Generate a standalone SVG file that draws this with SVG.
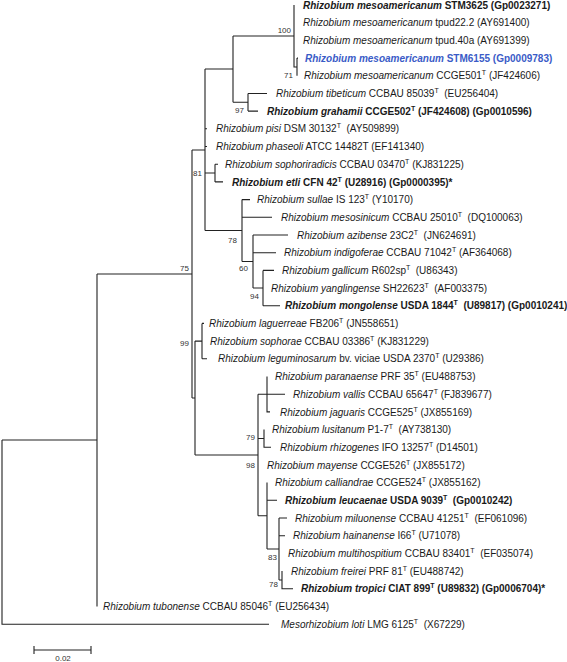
<svg xmlns="http://www.w3.org/2000/svg" width="567" height="662" viewBox="0 0 567 662">
<style>
.t{font-family:"Liberation Sans",Arial,sans-serif;font-size:10px;fill:#1a1a1a;white-space:pre}
.b{font-weight:bold}
.i{font-style:italic}
.s{font-size:7px}
.blue{fill:#3a5bc7}
.bs{font-family:"Liberation Sans",Arial,sans-serif;font-size:8px;fill:#333;text-anchor:end}
.ln{fill:none;stroke:#222;stroke-width:1.1}
</style>
<rect width="567" height="662" fill="#fff"/>
<g id="connectors" class="ln">
<path d="M2,440V624.2H269M2,440H97"/>
<path d="M97,274V606.5M97,274H192"/>
<path d="M192,150V398M192,150H205M192,398H195"/>
<path d="M205,69V230.5M205,69H233M205,128.8H207M205,146.5H207M205,173H215M205,230.5H242"/>
<path d="M233,36V102.3M233,36H294M233,102.3H248"/>
<path d="M294,5V67H297"/>
<path d="M297,58.1V75.8M297,58.1H298"/>
<path d="M248,93.5V111.1M248,93.5H267M248,111.1H258"/>
<path d="M215,164.2V181.9M215,164.2H218M215,181.9H223"/>
<path d="M242,199.6V261.5M242,199.6H250M242,217.3H272M242,261.5H253"/>
<path d="M253,235V288M253,235H288M253,252.7H276M253,288H263"/>
<path d="M263,270.4V305.7M263,270.4H274M263,305.7H280"/>
<path d="M195,341.1V455M195,341.1H202M195,455H258"/>
<path d="M202,323.4V358.8M202,323.4H204M202,358.8H207"/>
<path d="M258,394.2V515.8M258,394.2H285M258,438.5H264M258,515.8H267"/>
<path d="M267,376.5V411.9H270"/>
<path d="M264,429.6V447.3H271"/>
<path d="M267,482.6V549M267,500.3H277M267,549H279"/>
<path d="M279,518V580M279,518H287M279,535.7H285M279,580H282"/>
<path d="M282,571.1V588.8H293"/>
</g>
<g id="scale-bar">
<path class="ln" d="M34,650H91M34,646V654M91,646V654"/>
<text class="bs" x="63" y="661" style="text-anchor:middle">0.02</text>
</g>
<g id="support-values">
<text class="bs" x="291" y="33">100</text>
<text class="bs" x="293" y="78">71</text>
<text class="bs" x="244" y="113">97</text>
<text class="bs" x="202" y="176">81</text>
<text class="bs" x="237" y="243">78</text>
<text class="bs" x="248" y="271">60</text>
<text class="bs" x="259" y="299">94</text>
<text class="bs" x="189" y="271">75</text>
<text class="bs" x="189" y="346">99</text>
<text class="bs" x="255" y="440">79</text>
<text class="bs" x="255" y="468">98</text>
<text class="bs" x="277" y="560">83</text>
<text class="bs" x="278" y="587">78</text>
</g>
<g id="leaf-STM3625"><text class="t b" x="303" y="8.6"><tspan class="i">Rhizobium mesoamericanum</tspan> STM3625 (Gp0023271)</text></g>
<g id="leaf-tpud22"><text class="t" x="303" y="26.3"><tspan class="i">Rhizobium mesoamericanum</tspan> tpud22.2 (AY691400)</text></g>
<g id="leaf-tpud40a"><text class="t" x="303" y="44"><tspan class="i">Rhizobium mesoamericanum</tspan> tpud.40a (AY691399)</text></g>
<g id="leaf-STM6155"><text class="t b blue" x="305" y="61.7"><tspan class="i">Rhizobium mesoamericanum</tspan> STM6155 (Gp0009783)</text></g>
<g id="leaf-CCGE501"><text class="t" x="304" y="79.4"><tspan class="i">Rhizobium mesoamericanum</tspan> CCGE501<tspan class="s" dy="-4">T</tspan><tspan dy="4"> (JF424606)</tspan></text></g>
<g id="leaf-tibeticum"><text class="t" x="276" y="97.1"><tspan class="i">Rhizobium tibeticum</tspan> CCBAU 85039<tspan class="s" dy="-4">T</tspan><tspan dy="4">  (EU256404)</tspan></text></g>
<g id="leaf-grahamii"><text class="t b" x="267" y="114.7"><tspan class="i">Rhizobium grahamii</tspan> CCGE502<tspan class="s" dy="-4">T</tspan><tspan dy="4"> (JF424608) (Gp0010596)</tspan></text></g>
<g id="leaf-pisi"><text class="t" x="216" y="132.4"><tspan class="i">Rhizobium pisi</tspan> DSM 30132<tspan class="s" dy="-4">T</tspan><tspan dy="4">  (AY509899)</tspan></text></g>
<g id="leaf-phaseoli"><text class="t" x="216" y="150.1"><tspan class="i">Rhizobium phaseoli</tspan> ATCC 14482T (EF141340)</text></g>
<g id="leaf-sophoriradicis"><text class="t" x="225" y="167.8"><tspan class="i">Rhizobium sophoriradicis</tspan> CCBAU 03470<tspan class="s" dy="-4">T</tspan><tspan dy="4"> (KJ831225)</tspan></text></g>
<g id="leaf-etli"><text class="t b" x="232" y="185.5"><tspan class="i">Rhizobium etli</tspan> CFN 42<tspan class="s" dy="-4">T</tspan><tspan dy="4"> (U28916) (Gp0000395)*</tspan></text></g>
<g id="leaf-sullae"><text class="t" x="257" y="203.2"><tspan class="i">Rhizobium sullae</tspan> IS 123<tspan class="s" dy="-4">T</tspan><tspan dy="4"> (Y10170)</tspan></text></g>
<g id="leaf-mesosinicum"><text class="t" x="281" y="220.9"><tspan class="i">Rhizobium mesosinicum</tspan> CCBAU 25010<tspan class="s" dy="-4">T</tspan><tspan dy="4">  (DQ100063)</tspan></text></g>
<g id="leaf-azibense"><text class="t" x="297" y="238.6"><tspan class="i">Rhizobium azibense</tspan> 23C2<tspan class="s" dy="-4">T</tspan><tspan dy="4">  (JN624691)</tspan></text></g>
<g id="leaf-indigoferae"><text class="t" x="284" y="256.3"><tspan class="i">Rhizobium indigoferae</tspan> CCBAU 71042<tspan class="s" dy="-4">T</tspan><tspan dy="4"> (AF364068)</tspan></text></g>
<g id="leaf-gallicum"><text class="t" x="282" y="274"><tspan class="i">Rhizobium gallicum</tspan> R602sp<tspan class="s" dy="-4">T</tspan><tspan dy="4">  (U86343)</tspan></text></g>
<g id="leaf-yanglingense"><text class="t" x="271" y="291.6"><tspan class="i">Rhizobium yanglingense</tspan> SH22623<tspan class="s" dy="-4">T</tspan><tspan dy="4">  (AF003375)</tspan></text></g>
<g id="leaf-mongolense"><text class="t b" x="285" y="309.3"><tspan class="i">Rhizobium mongolense</tspan> USDA 1844<tspan class="s" dy="-4">T</tspan><tspan dy="4">  (U89817) (Gp0010241)</tspan></text></g>
<g id="leaf-laguerreae"><text class="t" x="209" y="327"><tspan class="i">Rhizobium laguerreae</tspan> FB206<tspan class="s" dy="-4">T</tspan><tspan dy="4"> (JN558651)</tspan></text></g>
<g id="leaf-sophorae"><text class="t" x="210" y="344.7"><tspan class="i">Rhizobium sophorae</tspan> CCBAU 03386<tspan class="s" dy="-4">T</tspan><tspan dy="4"> (KJ831229)</tspan></text></g>
<g id="leaf-leguminosarum"><text class="t" x="218" y="362.4"><tspan class="i">Rhizobium leguminosarum</tspan> bv. viciae USDA 2370<tspan class="s" dy="-4">T</tspan><tspan dy="4"> (U29386)</tspan></text></g>
<g id="leaf-paranaense"><text class="t" x="275" y="380.1"><tspan class="i">Rhizobium paranaense</tspan> PRF 35<tspan class="s" dy="-4">T</tspan><tspan dy="4"> (EU488753)</tspan></text></g>
<g id="leaf-vallis"><text class="t" x="293" y="397.8"><tspan class="i">Rhizobium vallis</tspan> CCBAU 65647<tspan class="s" dy="-4">T</tspan><tspan dy="4"> (FJ839677)</tspan></text></g>
<g id="leaf-jaguaris"><text class="t" x="280" y="415.5"><tspan class="i">Rhizobium jaguaris</tspan> CCGE525<tspan class="s" dy="-4">T</tspan><tspan dy="4"> (JX855169)</tspan></text></g>
<g id="leaf-lusitanum"><text class="t" x="272" y="433.2"><tspan class="i">Rhizobium lusitanum</tspan> P1-7<tspan class="s" dy="-4">T</tspan><tspan dy="4">  (AY738130)</tspan></text></g>
<g id="leaf-rhizogenes"><text class="t" x="280" y="450.9"><tspan class="i">Rhizobium rhizogenes</tspan> IFO 13257<tspan class="s" dy="-4">T</tspan><tspan dy="4"> (D14501)</tspan></text></g>
<g id="leaf-mayense"><text class="t" x="267" y="468.6"><tspan class="i">Rhizobium mayense</tspan> CCGE526<tspan class="s" dy="-4">T</tspan><tspan dy="4"> (JX855172)</tspan></text></g>
<g id="leaf-calliandrae"><text class="t" x="275" y="486.2"><tspan class="i">Rhizobium calliandrae</tspan> CCGE524<tspan class="s" dy="-4">T</tspan><tspan dy="4"> (JX855162)</tspan></text></g>
<g id="leaf-leucaenae"><text class="t b" x="285" y="503.9"><tspan class="i">Rhizobium leucaenae</tspan> USDA 9039<tspan class="s" dy="-4">T</tspan><tspan dy="4">  (Gp0010242)</tspan></text></g>
<g id="leaf-miluonense"><text class="t" x="295" y="521.6"><tspan class="i">Rhizobium miluonense</tspan> CCBAU 41251<tspan class="s" dy="-4">T</tspan><tspan dy="4">  (EF061096)</tspan></text></g>
<g id="leaf-hainanense"><text class="t" x="293" y="539.3"><tspan class="i">Rhizobium hainanense</tspan> I66<tspan class="s" dy="-4">T</tspan><tspan dy="4"> (U71078)</tspan></text></g>
<g id="leaf-multihospitium"><text class="t" x="288" y="557"><tspan class="i">Rhizobium multihospitium</tspan> CCBAU 83401<tspan class="s" dy="-4">T</tspan><tspan dy="4">  (EF035074)</tspan></text></g>
<g id="leaf-freirei"><text class="t" x="291" y="574.7"><tspan class="i">Rhizobium freirei</tspan> PRF 81<tspan class="s" dy="-4">T</tspan><tspan dy="4"> (EU488742)</tspan></text></g>
<g id="leaf-tropici"><text class="t b" x="301" y="592.4"><tspan class="i">Rhizobium tropici</tspan> CIAT 899<tspan class="s" dy="-4">T</tspan><tspan dy="4"> (U89832) (Gp0006704)*</tspan></text></g>
<g id="leaf-tubonense"><text class="t" x="103" y="610.1"><tspan class="i">Rhizobium tubonense</tspan> CCBAU 85046<tspan class="s" dy="-4">T</tspan><tspan dy="4"> (EU256434)</tspan></text></g>
<g id="leaf-loti"><text class="t" x="281" y="627.8"><tspan class="i">Mesorhizobium loti</tspan> LMG 6125<tspan class="s" dy="-4">T</tspan><tspan dy="4">  (X67229)</tspan></text></g>
</svg>
